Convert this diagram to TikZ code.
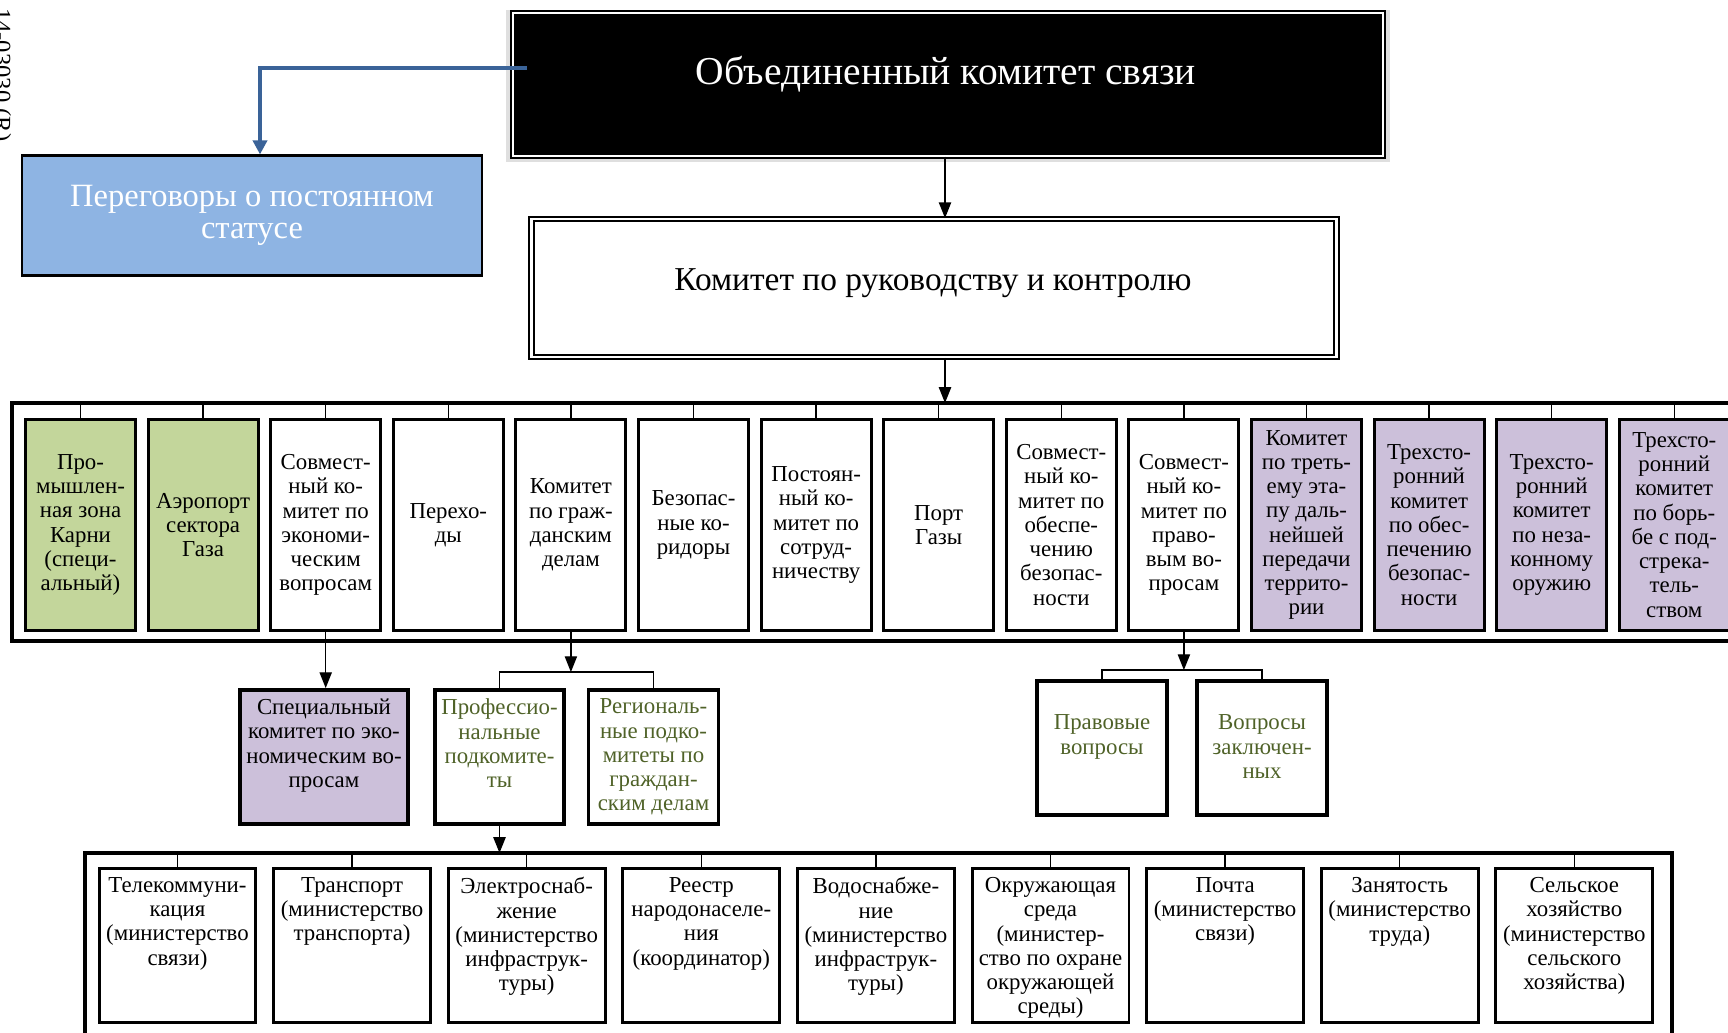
\documentclass[tikz,border=0pt]{standalone}
\usepackage{fontspec}
\setmainfont{Liberation Serif}
\usetikzlibrary{arrows.meta}
\definecolor{blfill}{HTML}{8EB4E3}
\definecolor{blline}{HTML}{3A6398}
\definecolor{grfill}{HTML}{C3D69B}
\definecolor{prfill}{HTML}{CCC0DA}
\definecolor{grtext}{HTML}{4F6228}
\begin{document}
\begin{tikzpicture}[x=0.02cm, y=-0.02cm, >={Triangle[length=9pt,width=7pt]},
	every node/.style={font=\fontsize{13}{13.8}\selectfont, align=center},
	rowbox/.style={draw, line width=1.7pt, minimum width=2.2cm, minimum height=4.22cm, inner sep=0pt},
	subbox/.style={draw, line width=2.2pt, minimum height=2.68cm},
	minbox/.style={draw, line width=1.7pt, minimum width=3.14cm, minimum height=3.1cm},
	toptext/.style={anchor=north, inner sep=6pt},
	tick/.style={line width=0.8pt},
	frame/.style={line width=2.2pt}]
	\useasboundingbox (0,0) rectangle (1728,1033);
	\node[rotate=-90, anchor=base west, font=\fontsize{14}{14}\selectfont] (docnum) at (-6,2) {14-03030 (R)};
	% top of the chart
	\fill[gray!25] (506,10) rectangle (1390,162);
	\node[draw=black, double=white, double distance=1.4pt, line width=0.8pt, fill=black, minimum width=17.4cm, minimum height=2.86cm] (jcc) at (948,84.5) {};
	\node[text=white, font=\fontsize{22.5}{22.5}\selectfont] (jcctext) at (946,74) {Объединенный комитет связи};
	\node[draw, double, double distance=1.6pt, line width=1pt, minimum width=16.1cm, minimum height=2.76cm] (krk) at (934,288) {};
	\node[font=\fontsize{19}{19}\selectfont] (krktext) at (933,283) {Комитет по руководству и контролю};
	\node[draw, line width=1.2pt, fill=blfill, text=white, font=\fontsize{18.5}{18.5}\selectfont, minimum width=9.2cm, minimum height=2.4cm] (neg) at (252,215.5) {Переговоры о постоянном\\статусе};
	\coordinate (bstart) at (527,68);
	\coordinate (bcorner) at (260,68);
	\draw[blline, line width=2.2pt, -{Triangle[length=8pt,width=8pt]}] (bstart) -- (bcorner) -- (bcorner |- neg.north);
	\coordinate (ftop) at (945,403);
	\draw[->, line width=0.8pt] (jcc.south -| ftop) -- (krk.north -| ftop);
	\draw[->, line width=0.8pt] (krk.south -| ftop) -- (ftop);
	% first row
	\draw[frame] (1728,403) -- (12,403) -- (12,641) -- (1728,641);
	\foreach \lbl/\clr [count=\i] in {
		{Про-\\мышлен-\\ная зона\\Карни\\(специ-\\альный)}/grfill,
		{Аэропорт\\сектора\\Газа}/grfill,
		{Совмест-\\ный ко-\\митет по\\экономи-\\ческим\\вопросам}/white,
		{Перехо-\\ды}/white,
		{Комитет\\по граж-\\данским\\делам}/white,
		{Безопас-\\ные ко-\\ридоры}/white,
		{Постоян-\\ный ко-\\митет по\\сотруд-\\ничеству}/white,
		{Порт\\Газы}/white,
		{Совмест-\\ный ко-\\митет по\\обеспе-\\чению\\безопас-\\ности}/white,
		{Совмест-\\ный ко-\\митет по\\право-\\вым во-\\просам}/white,
		{Комитет\\по треть-\\ему эта-\\пу даль-\\нейшей\\передачи\\террито-\\рии}/prfill,
		{Трехсто-\\ронний\\комитет\\по обес-\\печению\\безопас-\\ности}/prfill,
		{Трехсто-\\ронний\\комитет\\по неза-\\конному\\оружию}/prfill,
		{Трехсто-\\ронний\\комитет\\по борь-\\бе с под-\\стрека-\\тель-\\ством}/prfill}{
		\node[rowbox, fill=\clr] (r\i) at ({80.5+(\i-1)*122.6},525) {\lbl};
		\draw[tick] (r\i.north) -- (r\i.north |- ftop);
	}
	% second level
	\node[subbox, fill=prfill, minimum width=3.36cm] (spec) at (324,757) {};
	\node[toptext] (spectext) at (spec.north) {Специальный\\комитет по эко-\\номическим во-\\просам};
	\node[subbox, minimum width=2.58cm] (prof) at (499.5,757) {};
	\node[toptext, text=grtext] (proftext) at (prof.north) {Профессио-\\нальные\\подкомите-\\ты};
	\node[subbox, minimum width=2.6cm] (reg) at (653.5,757) {};
	\node[toptext, text=grtext] (regtext) at (reg.north) {Региональ-\\ные подко-\\митеты по\\граждан-\\ским делам};
	\node[subbox, minimum width=2.6cm] (prav) at (1102,748) {};
	\node[toptext, text=grtext] (pravtext) at ([yshift=-0.5cm]prav.north) {Правовые\\вопросы};
	\node[subbox, minimum width=2.6cm] (zakl) at (1262,748) {};
	\node[toptext, text=grtext] (zakltext) at ([yshift=-0.5cm]zakl.north) {Вопросы\\заключен-\\ных};
	\draw[->, line width=0.8pt] (r3.south) -- (r3.south |- spec.north);
	\draw[tick] (prof.north) -- ++(0,-16) coordinate (pbr) -| (reg.north);
	\draw[->, line width=0.8pt] (r5.south) -- (r5.south |- pbr);
	\draw[tick] (prav.north) -- ++(0,-9) coordinate (lbr) -| (zakl.north);
	\draw[->, line width=0.8pt] (r10.south) -- (r10.south |- lbr);
	% ministries
	\coordinate (mtop) at (85,853);
	\draw[frame] (85,1040) -- (mtop) -- (1672,853) -- (1672,1040);
	\draw[->, line width=0.8pt] (prof.south) -- (prof.south |- mtop);
	\foreach \lbl [count=\i] in {
		{Телекоммуни-\\кация\\(министерство\\связи)},
		{Транспорт\\(министерство\\транспорта)},
		{Электроснаб-\\жение\\(министерство\\инфраструк-\\туры)},
		{Реестр\\народонаселе-\\ния\\(координатор)},
		{Водоснабже-\\ние\\(министерство\\инфраструк-\\туры)},
		{Окружающая\\среда\\(министер-\\ство по охране\\окружающей\\среды)},
		{Почта\\(министерство\\связи)},
		{Занятость\\(министерство\\труда)},
		{Сельское\\хозяйство\\(министерство\\сельского\\хозяйства)}}{
		\node[minbox] (b\i) at ({177.5+(\i-1)*174.6},945.5) {};
		\node[toptext] (bt\i) at (b\i.north) {\lbl};
		\draw[tick] (b\i.north) -- (b\i.north |- mtop);
	}
\end{tikzpicture}
\end{document}
